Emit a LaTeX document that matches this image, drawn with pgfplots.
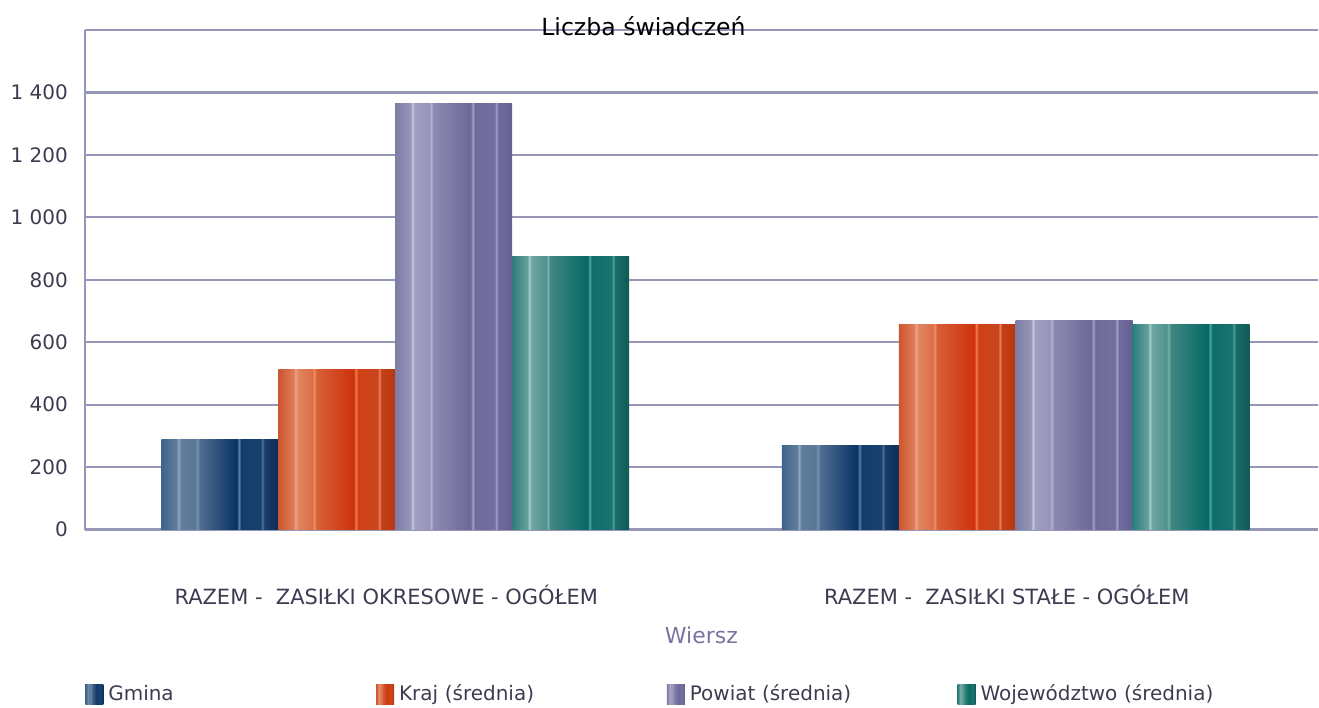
\documentclass[border=0pt]{standalone}
\usepackage{pgfplots}
\pgfplotsset{compat=1.18}
\usepackage{fontspec}
\setmainfont{DejaVu Sans}
\definecolor{gridc}{RGB}{150,150,185}
\definecolor{txt}{RGB}{60,60,80}
\definecolor{wier}{RGB}{120,115,160}
\pgfdeclarehorizontalshading{shgmina}{100bp}{%
rgb(0bp)=(0.243,0.392,0.549); rgb(25bp)=(0.243,0.392,0.549);
rgb(31.5bp)=(0.373,0.490,0.608); rgb(32.35bp)=(0.569,0.667,0.784); rgb(33.25bp)=(0.373,0.490,0.608);
rgb(39.5bp)=(0.353,0.471,0.588); rgb(40.35bp)=(0.471,0.588,0.706); rgb(41.25bp)=(0.314,0.431,0.569);
rgb(57.25bp)=(0.039,0.196,0.392); rgb(58.2bp)=(0.353,0.510,0.686); rgb(59bp)=(0.078,0.235,0.431);
rgb(67.5bp)=(0.098,0.255,0.431); rgb(68.25bp)=(0.333,0.471,0.627); rgb(69bp)=(0.098,0.243,0.412);
rgb(75bp)=(0.047,0.176,0.333); rgb(100bp)=(0.047,0.176,0.333)}
\pgfdeclarehorizontalshading{shkraj}{100bp}{%
rgb(0bp)=(0.804,0.333,0.176); rgb(25bp)=(0.804,0.333,0.176);
rgb(31.5bp)=(0.871,0.490,0.353); rgb(32.35bp)=(0.933,0.647,0.529); rgb(33.25bp)=(0.878,0.529,0.392);
rgb(39.5bp)=(0.863,0.431,0.275); rgb(40.35bp)=(0.933,0.569,0.412); rgb(41.25bp)=(0.843,0.373,0.216);
rgb(57.25bp)=(0.804,0.196,0.039); rgb(58.2bp)=(0.941,0.510,0.333); rgb(59bp)=(0.812,0.255,0.078);
rgb(67.5bp)=(0.784,0.275,0.118); rgb(68.25bp)=(0.933,0.529,0.373); rgb(69bp)=(0.765,0.255,0.098);
rgb(75bp)=(0.725,0.216,0.059); rgb(100bp)=(0.725,0.216,0.059)}
\pgfdeclarehorizontalshading{shpowiat}{100bp}{%
rgb(0bp)=(0.490,0.490,0.647); rgb(25bp)=(0.490,0.490,0.647);
rgb(31.5bp)=(0.588,0.588,0.725); rgb(32.35bp)=(0.784,0.784,0.871); rgb(33.25bp)=(0.627,0.627,0.765);
rgb(39.5bp)=(0.588,0.580,0.725); rgb(40.35bp)=(0.706,0.698,0.824); rgb(41.25bp)=(0.549,0.541,0.698);
rgb(57.25bp)=(0.424,0.408,0.596); rgb(58.2bp)=(0.647,0.627,0.784); rgb(59bp)=(0.431,0.416,0.608);
rgb(67.5bp)=(0.451,0.439,0.627); rgb(68.25bp)=(0.647,0.627,0.784); rgb(69bp)=(0.439,0.424,0.612);
rgb(75bp)=(0.392,0.373,0.569); rgb(100bp)=(0.392,0.373,0.569)}
\pgfdeclarehorizontalshading{shwoj}{100bp}{%
rgb(0bp)=(0.176,0.490,0.490); rgb(25bp)=(0.176,0.490,0.490);
rgb(31.5bp)=(0.392,0.627,0.608); rgb(32.35bp)=(0.647,0.804,0.784); rgb(33.25bp)=(0.431,0.659,0.639);
rgb(39.5bp)=(0.314,0.569,0.549); rgb(40.35bp)=(0.471,0.698,0.675); rgb(41.25bp)=(0.255,0.529,0.510);
rgb(57.25bp)=(0.020,0.412,0.392); rgb(58.2bp)=(0.314,0.647,0.627); rgb(59bp)=(0.059,0.431,0.412);
rgb(67.5bp)=(0.098,0.451,0.431); rgb(68.25bp)=(0.333,0.627,0.608); rgb(69bp)=(0.098,0.431,0.412);
rgb(75bp)=(0.059,0.353,0.333); rgb(100bp)=(0.059,0.353,0.333)}
\begin{document}
\begin{tikzpicture}
\begin{axis}[
  name=ax,
  scale only axis,
  width=617pt, height=250pt,
  xmin=-0.5, xmax=1.487,
  ymin=0, ymax=1600,
  xtick={0,1},
  xticklabels={RAZEM -\ \ ZASIŁKI OKRESOWE - OGÓŁEM, RAZEM -\ \ ZASIŁKI STAŁE - OGÓŁEM},
  ytick={0,200,400,600,800,1000,1200,1400,1600},
  yticklabels={0,200,400,600,800,1 000,1 200,1 400,{}},
  major tick length=0pt,
  axis line style={draw=none},
  ymajorgrids,
  grid style={gridc, line width=1.1pt},
  tick label style={font=\fontsize{10}{12}\selectfont, text=txt},
  xticklabel style={yshift=-24pt, xshift=-4.5pt, font=\fontsize{10.5}{12}\selectfont},
  yticklabel style={xshift=-5pt},
  xlabel={Wiersz},
  xlabel style={font=\fontsize{11}{13}\selectfont, text=wier, at={(0.5,0)}, anchor=center, yshift=-53pt},
  title={Liczba świadczeń},
  title style={font=\fontsize{11.8}{14}\selectfont, text=black, at={(0.453,1)}, anchor=center, yshift=-4pt},
  ybar=0pt,
  bar width=0.1884,
  legend columns=4,
  legend style={at={(0,0)}, anchor=west, yshift=-82.5pt, draw=none, fill=none, inner sep=0pt,
    font=\fontsize{10}{12}\selectfont, text=txt,
    nodes={inner xsep=2.5pt, inner ysep=0pt, text width=131.5pt, align=left, anchor=west}},
  legend image code/.code={\fill[#1,draw=none] (0pt,-5pt) rectangle (9pt,5pt);},
  clip=false,
]
\addplot[draw=none, shading=shgmina, bar shift=-0.2826] coordinates {(0,289)};
\addplot[draw=none, shading=shkraj, bar shift=-0.0942] coordinates {(0,512)};
\addplot[draw=none, shading=shpowiat, bar shift=0.0942] coordinates {(0,1364)};
\addplot[draw=none, shading=shwoj, bar shift=0.2826] coordinates {(0,875)};
\addplot[draw=none, shading=shgmina, bar shift=-0.2826, forget plot] coordinates {(1,270)};
\addplot[draw=none, shading=shkraj, bar shift=-0.0942, forget plot] coordinates {(1,658)};
\addplot[draw=none, shading=shpowiat, bar shift=0.0942, forget plot] coordinates {(1,671)};
\addplot[draw=none, shading=shwoj, bar shift=0.2826, forget plot] coordinates {(1,658)};
\legend{Gmina, Kraj (średnia), Powiat (średnia), Województwo (średnia)}
\draw[gridc, line width=1.1pt] (rel axis cs:0,0) -- (rel axis cs:0,1);
\end{axis}
\path ([xshift=-42.5pt,yshift=-89pt]ax.south west) rectangle ([yshift=15pt]ax.north east);
\end{tikzpicture}
\end{document}
